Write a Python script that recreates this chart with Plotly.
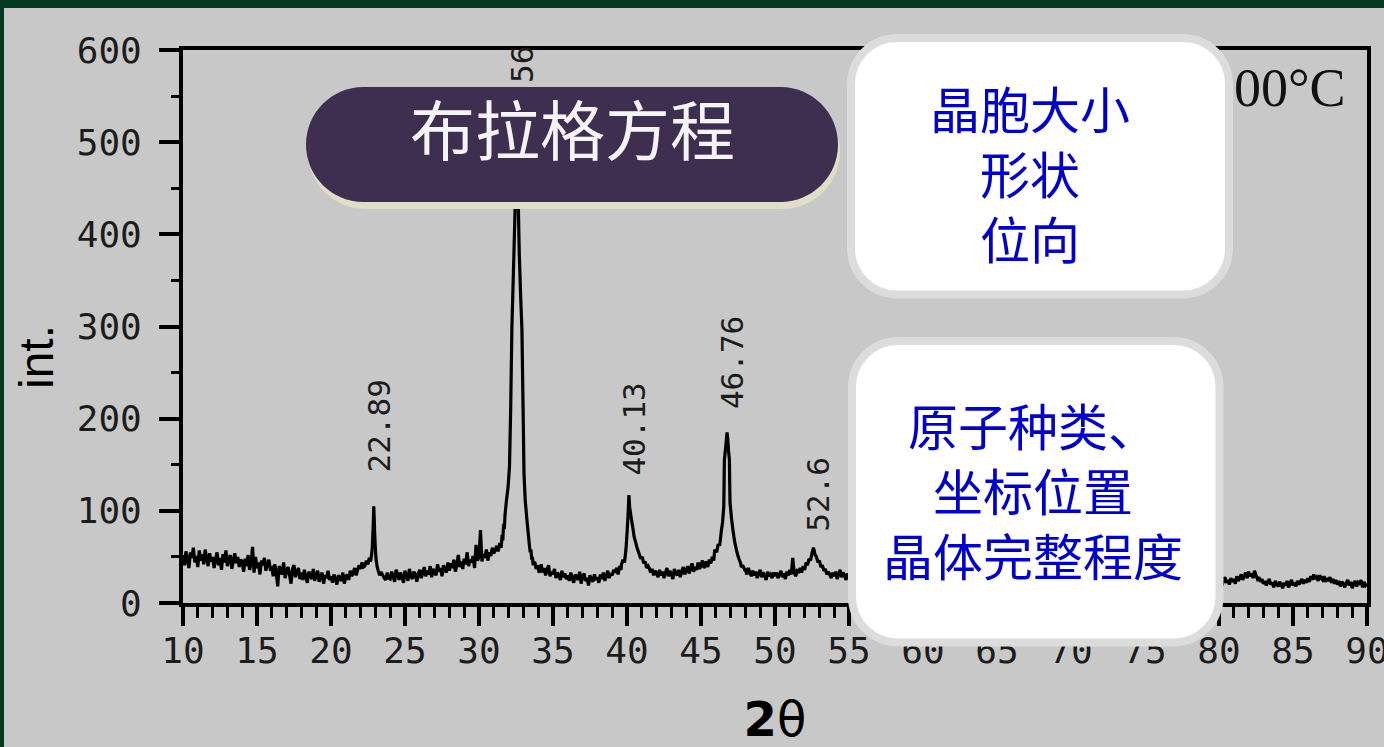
import numpy as np
import plotly.graph_objects as go

# ---------------------------------------------------------------
# XRD scan: background counts on a 0.1° grid from 2θ = 10° to 90°
# ---------------------------------------------------------------
scan_start = 10.0
scan_step = 0.1
background = [
    # 10.0 - 11.9
    52, 41, 56, 47, 38, 55, 49, 60, 44, 51, 39, 57, 46, 53, 42, 58, 48, 40, 54, 45,
    # 12.0 - 13.9
    50, 38, 47, 55, 41, 49, 36, 53, 44, 57, 40, 48, 52, 37, 46, 54, 43, 50, 39, 47,
    # 14.0 - 15.9
    45, 34, 48, 40, 52, 36, 43, 61, 33, 50, 38, 44, 31, 46, 41, 49, 35, 42, 47, 37,
    # 16.0 - 17.9
    38, 29, 42, 33, 18, 40, 36, 31, 44, 27, 35, 39, 30, 21, 37, 41, 28, 34, 38, 26,
    # 18.0 - 19.9
    33, 25, 36, 28, 22, 34, 30, 26, 37, 24, 31, 35, 23, 29, 33, 21, 30, 27, 35, 25,
    # 20.0 - 21.9
    29, 22, 31, 26, 20, 30, 27, 24, 33, 21, 28, 31, 25, 35, 29, 33, 38, 30, 36, 41,
    # 22.0 - 23.9
    37, 44, 39, 47, 42, 48, 45, 50, 46, 52, 49, 45, 40, 36, 33, 30, 27, 25, 33, 27,
    # 24.0 - 25.9
    26, 34, 29, 23, 36, 31, 25, 33, 28, 22, 35, 30, 24, 37, 29, 26, 34, 31, 23, 32,
    # 26.0 - 27.9
    36, 27, 33, 39, 29, 35, 31, 40, 28, 37, 33, 30, 42, 34, 38, 29, 41, 36, 33, 44,
    # 28.0 - 29.9
    35, 43, 38, 47, 34, 41, 52, 39, 45, 37, 48, 42, 55, 40, 47, 44, 51, 38, 63, 46,
    # 30.0 - 31.9
    50, 79, 45, 53, 49, 58, 46, 55, 51, 60, 54, 57, 62, 56, 65, 60, 68, 64, 72, 75,
    # 32.0 - 33.9
    66, 58, 63, 55, 60, 52, 57, 49, 54, 46, 51, 43, 47, 40, 44, 37, 41, 35, 39, 33,
    # 34.0 - 35.9
    40, 35, 42, 33, 38, 30, 36, 41, 29, 34, 31, 37, 27, 33, 30, 25, 35, 28, 32, 26,
    # 36.0 - 37.9
    30, 24, 33, 27, 22, 31, 28, 25, 34, 21, 29, 32, 24, 27, 19, 30, 26, 23, 31, 25,
    # 38.0 - 39.9
    28, 22, 31, 26, 33, 24, 29, 35, 27, 32, 30, 36, 33, 38, 31, 40, 36, 42, 38, 45,
    # 40.0 - 41.9
    45, 50, 55, 52, 48, 45, 42, 40, 38, 36, 35, 37, 34, 36, 33, 38, 33, 37, 30, 35,
    # 42.0 - 43.9
    32, 28, 36, 30, 34, 27, 33, 38, 29, 35, 31, 26, 37, 32, 30, 36, 28, 34, 39, 31,
    # 44.0 - 45.9
    35, 40, 32, 38, 43, 34, 39, 36, 44, 37, 41, 46, 38, 43, 40, 47, 42, 45, 49, 44,
    # 46.0 - 47.9
    42, 45, 40, 44, 38, 43, 41, 39, 42, 37, 40, 36, 39, 35, 38, 34, 37, 33, 36, 32,
    # 48.0 - 49.9
    36, 31, 38, 33, 29, 35, 30, 34, 27, 32, 36, 28, 33, 30, 25, 34, 29, 31, 27, 33,
    # 50.0 - 51.9
    29, 33, 27, 31, 35, 28, 32, 26, 34, 30, 36, 31, 49, 33, 29, 35, 32, 37, 34, 39,
    # 52.0 - 53.9
    38, 40, 41, 43, 44, 45, 44, 42, 41, 39, 37, 36, 34, 33, 32, 31, 33, 31, 27, 33,
    # 54.0 - 55.9
    29, 34, 26, 31, 36, 28, 33, 30, 25, 32, 29, 35, 27, 31, 34, 26, 30, 33, 28, 31,
    # 56.0 - 57.9
    27, 32, 25, 30, 34, 26, 29, 33, 24, 31, 28, 35, 27, 30, 25, 32, 29, 26, 33, 28,
    # 58.0 - 59.9
    30, 25, 33, 28, 24, 31, 27, 34, 29, 26, 32, 28, 35, 30, 27, 33, 29, 36, 31, 34,
    # 60.0 - 61.9
    38, 33, 40, 35, 31, 37, 33, 30, 35, 29, 32, 27, 31, 28, 25, 30, 26, 29, 24, 28,
    # 62.0 - 63.9
    26, 30, 24, 28, 31, 25, 29, 23, 27, 32, 26, 29, 24, 30, 27, 25, 31, 26, 28, 23,
    # 64.0 - 65.9
    27, 24, 30, 26, 22, 29, 25, 31, 27, 24, 28, 33, 29, 36, 32, 38, 34, 31, 35, 30,
    # 66.0 - 67.9
    33, 28, 31, 27, 25, 30, 26, 29, 23, 27, 25, 29, 24, 28, 26, 22, 27, 25, 29, 24,
    # 68.0 - 69.9
    26, 23, 28, 25, 30, 24, 27, 22, 26, 29, 25, 28, 24, 27, 31, 26, 29, 25, 28, 24,
    # 70.0 - 71.9
    27, 25, 29, 23, 26, 28, 24, 27, 22, 26, 29, 25, 31, 28, 33, 30, 35, 32, 29, 33,
    # 72.0 - 73.9
    30, 27, 31, 26, 29, 24, 28, 25, 27, 23, 26, 28, 24, 27, 22, 26, 29, 24, 27, 25,
    # 74.0 - 75.9
    23, 27, 25, 29, 24, 26, 22, 27, 25, 28, 23, 26, 24, 29, 25, 27, 23, 26, 28, 24,
    # 76.0 - 77.9
    26, 23, 28, 25, 30, 27, 32, 29, 34, 30, 28, 31, 26, 29, 24, 27, 25, 22, 26, 24,
    # 78.0 - 79.9
    27, 23, 25, 28, 22, 26, 24, 29, 23, 26, 22, 27, 25, 21, 26, 23, 28, 24, 22, 26,
    # 80.0 - 81.9
    21, 26, 19, 24, 28, 22, 25, 20, 27, 23, 26, 21, 29, 24, 27, 31, 25, 29, 33, 27,
    # 82.0 - 83.9
    34, 29, 32, 27, 35, 30, 26, 28, 23, 26, 21, 24, 19, 23, 26, 20, 22, 17, 24, 21,
    # 84.0 - 85.9
    18, 23, 20, 16, 22, 19, 24, 17, 21, 25, 19, 22, 18, 24, 20, 23, 26, 21, 25, 22,
    # 86.0 - 87.9
    27, 23, 29, 25, 31, 26, 28, 24, 30, 27, 25, 29, 23, 27, 24, 28, 22, 26, 21, 25,
    # 88.0 - 89.9
    20, 24, 18, 23, 21, 17, 22, 25, 19, 23, 16, 21, 24, 18, 22, 20, 25, 17, 23, 19,
    # 90.0
    21,
]

# ---------------------------------------------------------------
# Diffraction peaks: centre (2θ), label, and profile points given as
# offsets from the centre with their counts
# ---------------------------------------------------------------
peak_centers = [22.89, 32.56, 40.13, 46.76, 52.6]
peak_labels = ["22.89", "32.56", "40.13", "46.76", "52.6"]

peak_offsets = [
    [-0.6, -0.5, -0.4, -0.3, -0.22, -0.15, -0.1, -0.06, -0.03, 0.0,
     0.03, 0.06, 0.1, 0.15, 0.22, 0.3, 0.4, 0.5],
    [-1.0, -0.95, -0.9, -0.85, -0.8, -0.7, -0.6, -0.5, -0.42, -0.34, -0.2, -0.1, 0.0,
     0.08, 0.16, 0.26, 0.34, 0.42, 0.48, 0.56, 0.68, 0.8, 0.85, 0.9, 0.95, 1.0,
     1.05, 1.1, 1.2, 1.3, 1.4, 1.5, 1.6],
    [-0.5, -0.4, -0.3, -0.2, -0.12, -0.06, 0.0, 0.05, 0.12, 0.2, 0.28, 0.35,
     0.45, 0.55, 0.7, 0.8, 0.9, 1.0, 1.1, 1.2, 1.3],
    [-1.5, -1.4, -1.3, -1.2, -1.1, -1.0, -0.9, -0.83, -0.7, -0.6, -0.5, -0.38,
     -0.3, -0.22, -0.2, -0.18, -0.1, -0.05, 0.0, 0.05, 0.1, 0.16, 0.18, 0.2,
     0.3, 0.4, 0.52, 0.63, 0.72, 0.8, 0.9, 0.97, 1.05, 1.2],
    [-1.0, -0.9, -0.8, -0.7, -0.6, -0.5, -0.4, -0.3, -0.2, -0.1, 0.0,
     0.1, 0.2, 0.3, 0.4, 0.5, 0.6, 0.7, 0.8, 0.9, 1.0],
]
peak_counts = [
    [40, 46, 42, 49, 45, 52, 60, 76, 88, 105,
     92, 76, 62, 48, 40, 35, 30, 34],
    [74, 68, 86, 80, 96, 112, 125, 148, 210, 297, 380, 440, 480,
     445, 380, 330, 297, 210, 141, 112, 90, 70, 62, 55, 58, 47,
     50, 41, 45, 37, 41, 33, 37],
    [42, 47, 44, 58, 78, 95, 117, 104, 96, 88, 80, 72,
     66, 60, 53, 48, 50, 43, 45, 38, 40],
    [40, 45, 39, 47, 43, 50, 46, 58, 55, 64, 62, 79,
     88, 105, 130, 155, 168, 176, 185, 178, 165, 155, 130, 109,
     92, 79, 66, 58, 52, 48, 44, 39, 41, 36],
    [34, 38, 33, 40, 36, 44, 41, 48, 46, 54, 60,
     53, 50, 44, 46, 39, 41, 35, 37, 31, 34],
]
# vertical gap (px) between each peak top and its label
label_gaps = [32, 20, 18, 21, 14]

# ---------------------------------------------------------------
# Assemble the pattern: background outside the peak windows plus the
# peak profile points, sorted by 2θ
# ---------------------------------------------------------------
grid = np.round(scan_start + scan_step * np.arange(len(background)), 2)
bg = np.array(background, dtype=float)
keep = np.ones(len(grid), dtype=bool)
px_list, py_list = [], []
for c, offs, vals in zip(peak_centers, peak_offsets, peak_counts):
    lo, hi = c + offs[0], c + offs[-1]
    keep &= ~((grid >= lo - 1e-9) & (grid <= hi + 1e-9))
    px_list.extend([round(c + o, 3) for o in offs])
    py_list.extend(vals)

two_theta = np.concatenate([grid[keep], np.array(px_list)])
intensity = np.concatenate([bg[keep], np.array(py_list, dtype=float)])
order = np.argsort(two_theta, kind="stable")
two_theta, intensity = two_theta[order], intensity[order]

# ---------------------------------------------------------------
# Page geometry (pixels) and helpers for paper coordinates
# ---------------------------------------------------------------
W, H = 1384, 747
PL, PR, PT, PB = 183, 1367, 50, 603


def fx(px):
    return (px - PL) / (PR - PL)


def fy(py):
    return (PB - py) / (PB - PT)


def rounded_rect(x0, y0, x1, y1, r):
    k = 0.5523 * r
    pts = [
        ("M", [(x0 + r, y0)]),
        ("L", [(x1 - r, y0)]),
        ("C", [(x1 - r + k, y0), (x1, y0 + r - k), (x1, y0 + r)]),
        ("L", [(x1, y1 - r)]),
        ("C", [(x1, y1 - r + k), (x1 - r + k, y1), (x1 - r, y1)]),
        ("L", [(x0 + r, y1)]),
        ("C", [(x0 + r - k, y1), (x0, y1 - r + k), (x0, y1 - r)]),
        ("L", [(x0, y0 + r)]),
        ("C", [(x0, y0 + r - k), (x0 + r - k, y0), (x0 + r, y0)]),
    ]
    parts = []
    for cmd, coords in pts:
        parts.append(cmd + " ".join(f"{fx(a):.5f},{fy(b):.5f}" for a, b in coords))
    return " ".join(parts) + " Z"


BG_GREY = "#c8c8c8"
FRAME_GREEN = "#053a22"
PILL = "#3e2e50"
PILL_SHADOW = "#e0dec4"
BOX_EDGE = "#dcdcdc"
BLUE = "#0000cc"

fig = go.Figure()
fig.add_trace(go.Scatter(
    x=two_theta, y=intensity, mode="lines",
    line=dict(color="black", width=3.2, simplify=False),
    hoverinfo="skip", showlegend=False,
))

tick_font = dict(family="DejaVu Sans Mono", size=36, color="#1c1c1c")

fig.update_xaxes(
    range=[10, 90], tickmode="linear", tick0=10, dtick=5,
    showline=True, linecolor="black", linewidth=4, mirror=True,
    ticks="outside", ticklen=19, tickwidth=4, tickcolor="black",
    minor=dict(ticks="outside", tick0=10, dtick=1, ticklen=11, tickwidth=3, tickcolor="black"),
    showgrid=False, zeroline=False, tickfont=tick_font,
    ticklabelstandoff=-6, ticklabeloverflow="allow",
    title=dict(text="<b>2</b>θ", font=dict(family="DejaVu Sans", size=48, color="black"), standoff=42),
)
fig.update_yaxes(
    range=[0, 600], tickmode="linear", tick0=0, dtick=100,
    showline=True, linecolor="black", linewidth=4, mirror=True,
    ticks="outside", ticklen=20, tickwidth=4, tickcolor="black",
    minor=dict(ticks="outside", tick0=0, dtick=50, ticklen=8, tickwidth=3, tickcolor="black"),
    showgrid=False, zeroline=False, tickfont=tick_font, ticklabelstandoff=10,
    ticklabeloverflow="allow",
)

shapes = [
    # slide frame strips
    dict(type="rect", xref="paper", yref="paper", x0=fx(0), x1=fx(W), y0=fy(0), y1=fy(8),
         fillcolor=FRAME_GREEN, line=dict(width=0), layer="above"),
    dict(type="rect", xref="paper", yref="paper", x0=fx(0), x1=fx(4), y0=fy(0), y1=fy(H),
         fillcolor=FRAME_GREEN, line=dict(width=0), layer="above"),
    # Bragg pill: shadow then body
    dict(type="path", xref="paper", yref="paper", path=rounded_rect(308, 94, 840, 209, 57.5),
         fillcolor=PILL_SHADOW, line=dict(width=0), layer="above"),
    dict(type="path", xref="paper", yref="paper", path=rounded_rect(306, 87, 838, 202, 57.5),
         fillcolor=PILL, line=dict(width=0), layer="above"),
    # white callout boxes
    dict(type="path", xref="paper", yref="paper", path=rounded_rect(851, 38, 1229, 294.5, 46),
         fillcolor="white", line=dict(color=BOX_EDGE, width=8), layer="above"),
    dict(type="path", xref="paper", yref="paper", path=rounded_rect(852, 341, 1219.5, 642.5, 46),
         fillcolor="white", line=dict(color=BOX_EDGE, width=8), layer="above"),
]

annotations = []
# peak position labels
for c, lab, vals, offs, gap in zip(peak_centers, peak_labels, peak_counts, peak_offsets, label_gaps):
    top = vals[offs.index(0.0)]
    annotations.append(dict(
        x=c, y=top, xref="x", yref="y", text=lab, showarrow=False, textangle=-90,
        xanchor="center", yanchor="bottom", xshift=5, yshift=gap,
        font=dict(family="DejaVu Sans Mono", size=31, color="#1c1c1c"),
    ))

# y-axis title
annotations.append(dict(
    x=fx(36), y=fy(357), xref="paper", yref="paper", text="int.", showarrow=False,
    textangle=-90, xanchor="center", yanchor="middle",
    font=dict(family="Liberation Sans", size=48, color="black"),
))

# temperature note
annotations.append(dict(
    x=fx(1348), y=fy(88), xref="paper", yref="paper", text="00°C", showarrow=False,
    xanchor="right", yanchor="middle",
    font=dict(family="Liberation Serif", size=54, color="#111111"),
))

# pill body (middle part) and its caption
annotations.append(dict(
    x=fx(572), y=fy(144.5), xref="paper", yref="paper", text=" ", showarrow=False,
    xanchor="center", yanchor="middle", width=421, height=115, bgcolor=PILL,
    borderpad=0, borderwidth=0,
))
annotations.append(dict(
    x=fx(572), y=fy(127), xref="paper", yref="paper", text="布拉格方程", showarrow=False,
    xanchor="center", yanchor="middle",
    font=dict(family="Noto Sans CJK SC", size=65, color="#f4f4f4"),
))

box_lines_1 = ["晶胞大小", "形状", "位向"]
box_lines_2 = ["原子种类、", "坐标位置", "晶体完整程度"]
annotations.append(dict(
    x=fx(1030), y=fy(172), xref="paper", yref="paper", text="<br>".join(box_lines_1),
    showarrow=False, xanchor="center", yanchor="middle", align="center",
    font=dict(family="Noto Sans CJK SC", size=50, color=BLUE),
))
annotations.append(dict(
    x=fx(1033), y=fy(489), xref="paper", yref="paper", text="<br>".join(box_lines_2),
    showarrow=False, xanchor="center", yanchor="middle", align="center",
    font=dict(family="Noto Sans CJK SC", size=50, color=BLUE),
))

fig.update_layout(
    width=W, height=H,
    margin=dict(l=PL, r=W - PR, t=PT, b=H - PB, autoexpand=False),
    paper_bgcolor=BG_GREY, plot_bgcolor=BG_GREY,
    shapes=shapes, annotations=annotations,
    showlegend=False,
)

fig.write_html("out.html")
